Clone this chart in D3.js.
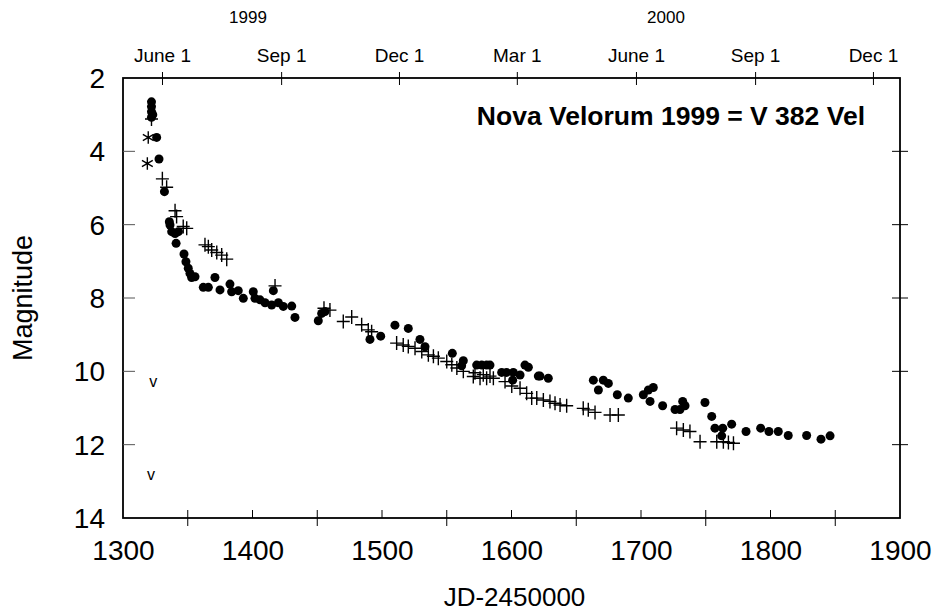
<!DOCTYPE html>
<html>
<head>
<meta charset="utf-8">
<script src="https://cdn.jsdelivr.net/npm/d3@7"></script>
<style>
  html, body { margin: 0; padding: 0; background: #fff; }
  svg { display: block; font-family: "Liberation Sans", Arial, Helvetica, sans-serif; }
</style>
</head>
<body>
<svg id="chart" width="937" height="612"></svg>
<script>
// Light curve of Nova Velorum 1999 (V382 Vel): JD-2450000 vs visual magnitude

// Filled circles
const dotJD = [1322, 1322, 1322, 1323, 1322, 1326, 1327.8, 1332, 1335.8, 1336.3, 1337.6, 1340.2, 1342.8, 1341,
  1347.1, 1348.6, 1350.4, 1351.7, 1353, 1355.6, 1362, 1365.9, 1371, 1374.9, 1382.6, 1383.9, 1389, 1392.9,
  1400.6, 1401.9, 1405.8, 1409.7, 1414.8, 1416.1, 1420, 1423.8, 1430.3, 1432.8, 1450.8, 1453.4, 1456,
  1490.7, 1499, 1510, 1520.3, 1529.3, 1533.2, 1554.3, 1562.8, 1561.5, 1573.1, 1577, 1580.8, 1583.4,
  1592.4, 1596.2, 1601.4, 1606.6, 1610.4, 1613, 1620.7, 1622, 1628.4, 1600.9, 1663.2, 1667.1, 1670.9,
  1674.8, 1681.7, 1690.2, 1701.8, 1705.7, 1709.5, 1707, 1716.7, 1726.3, 1730.1, 1732.2, 1734, 1749.4,
  1754.6, 1757.1, 1763.1, 1762.3, 1770, 1781.1, 1792.4, 1798.8, 1806, 1813.7, 1827.9, 1839, 1846];
const dotMag = [2.65, 2.78, 2.92, 3.0, 3.07, 3.62, 4.21, 5.1, 5.92, 6.01, 6.19, 6.24, 6.19, 6.51,
  6.8, 7.01, 7.19, 7.33, 7.44, 7.42, 7.71, 7.71, 7.44, 7.78, 7.62, 7.83, 7.8, 8.01,
  7.83, 8.01, 8.05, 8.13, 8.19, 7.8, 8.13, 8.23, 8.22, 8.53, 8.62, 8.42, 8.37,
  9.13, 9.04, 8.74, 8.83, 9.13, 9.33, 9.51, 9.71, 9.85, 9.83, 9.83, 9.83, 9.83,
  10.03, 10.03, 10.03, 10.1, 9.83, 9.89, 10.13, 10.13, 10.19, 10.24, 10.24, 10.51, 10.24,
  10.33, 10.64, 10.73, 10.64, 10.51, 10.44, 10.82, 10.94, 11.04, 11.04, 10.82, 10.94, 10.85,
  11.23, 11.55, 11.55, 11.76, 11.44, 11.64, 11.55, 11.64, 11.64, 11.75, 11.75, 11.85, 11.76];

// Plus signs
const plusJD = [1322, 1330.4, 1333.7, 1340.2, 1341.4, 1346.5, 1349.2, 1363.3, 1365.9, 1368.5, 1372.4, 1376.2,
  1380.1, 1417.4, 1455.2, 1459.8, 1470.1, 1476.6, 1484.3, 1489.4, 1492, 1511.3, 1516.4, 1520.3, 1525.5,
  1530.7, 1535.8, 1539.7, 1543.5, 1550, 1553.9, 1557.8, 1562.8, 1570.5, 1571.8, 1575.7, 1578.2, 1580.8,
  1583.4, 1586, 1595, 1600.2, 1606.6, 1611.7, 1615.6, 1619.5, 1624.6, 1629.7, 1633.6, 1637.5, 1642.6,
  1655.4, 1659.3, 1664.5, 1676.1, 1682.5, 1727.5, 1732.7, 1737.8, 1745.6, 1758.5, 1763.6, 1767.5, 1771.4];
const plusMag = [3.12, 4.75, 4.98, 5.62, 5.78, 6.05, 6.1, 6.55, 6.6, 6.69, 6.76, 6.83,
  6.94, 7.67, 8.28, 8.33, 8.64, 8.52, 8.73, 8.87, 8.92, 9.23, 9.28, 9.32, 9.37,
  9.46, 9.55, 9.59, 9.64, 9.73, 9.82, 9.91, 10.0, 10.14, 10.04, 10.19, 10.09, 10.19,
  10.13, 10.19, 10.28, 10.4, 10.46, 10.6, 10.73, 10.73, 10.78, 10.82, 10.87, 10.92, 10.94,
  11.01, 11.05, 11.12, 11.19, 11.19, 11.55, 11.6, 11.64, 11.92, 11.92, 11.92, 11.94, 11.96];

// Asterisks
const starJD = [1319.5, 1318.8];
const starMag = [3.62, 4.33];

// Upper limits (fainter than)
const limitJD = [1323.4, 1321.6];
const limitMag = [10.3, 12.83];

// Axis ticks
const xTicks = [1300, 1400, 1500, 1600, 1700, 1800, 1900];
const xMinorTicks = [1350, 1450, 1550, 1650, 1750, 1850];
const yTicks = [2, 4, 6, 8, 10, 12, 14];
const monthJD = [1330.5, 1422.5, 1513.5, 1604.5, 1696.5, 1788.5, 1879.5];
const monthLabels = ["June 1", "Sep 1", "Dec 1", "Mar 1", "June 1", "Sep 1", "Dec 1"];
const yearJD = [1396.5, 1719.3];
const yearLabels = ["1999", "2000"];

const title = "Nova Velorum 1999 = V 382 Vel";

const svg = d3.select("#chart");
const plotLeft = 123, plotRight = 900, plotTop = 78, plotBottom = 518;

const x = d3.scaleLinear().domain([1300, 1900]).range([plotLeft, plotRight]);
const y = d3.scaleLinear().domain([2, 14]).range([plotTop, plotBottom]);

const zip = (a, b) => a.map((v, i) => [v, b[i]]);

// Frame
svg.append("rect")
  .attr("x", plotLeft).attr("y", plotTop)
  .attr("width", plotRight - plotLeft).attr("height", plotBottom - plotTop)
  .attr("fill", "none").attr("stroke", "#000").attr("stroke-width", 1.8);

// Bottom axis: labels
const bx = svg.append("g").attr("transform", `translate(0,${plotBottom})`)
  .call(d3.axisBottom(x).tickValues(xTicks).tickSize(0).tickPadding(22).tickFormat(d3.format("d")));
bx.select(".domain").remove();
bx.attr("font-family", null).attr("font-size", null);
bx.selectAll("text").attr("font-size", 28).attr("fill", "#000");

// Bottom axis: inner major ticks
svg.append("g").selectAll("line").data(xTicks.slice(1, -1)).join("line")
  .attr("x1", d => x(d)).attr("x2", d => x(d))
  .attr("y1", plotBottom).attr("y2", plotBottom - 8)
  .attr("stroke", "#000").attr("stroke-width", 1);
// Bottom axis: crossing minor ticks
svg.append("g").selectAll("line").data(xMinorTicks).join("line")
  .attr("x1", d => x(d)).attr("x2", d => x(d))
  .attr("y1", plotBottom - 8).attr("y2", plotBottom + 8)
  .attr("stroke", "#000").attr("stroke-width", 1);

// Left axis: labels and inner ticks
svg.append("g").selectAll("text").data(yTicks).join("text")
  .attr("x", 105).attr("y", d => y(d)).attr("dy", "0.36em")
  .attr("text-anchor", "end").attr("font-size", 28).text(d => d);
svg.append("g").selectAll("line").data(yTicks.slice(1, -1)).join("line")
  .attr("x1", plotLeft).attr("x2", plotLeft + 12)
  .attr("y1", d => y(d)).attr("y2", d => y(d))
  .attr("stroke", "#555").attr("stroke-width", 1);

// Right axis: crossing ticks
svg.append("g").selectAll("line").data(yTicks.slice(1, -1)).join("line")
  .attr("x1", plotRight - 8).attr("x2", plotRight + 8)
  .attr("y1", d => y(d)).attr("y2", d => y(d))
  .attr("stroke", "#000").attr("stroke-width", 1);

// Top axis: calendar dates
svg.append("g").selectAll("line").data(monthJD).join("line")
  .attr("x1", d => x(d)).attr("x2", d => x(d))
  .attr("y1", plotTop - 6).attr("y2", plotTop + 7)
  .attr("stroke", "#000").attr("stroke-width", 1);
svg.append("g").selectAll("text").data(monthJD).join("text")
  .attr("x", d => x(d)).attr("y", 62)
  .attr("text-anchor", "middle").attr("font-size", 19)
  .text((d, i) => monthLabels[i]);
svg.append("g").selectAll("text").data(yearJD).join("text")
  .attr("x", d => x(d)).attr("y", 23)
  .attr("text-anchor", "middle").attr("font-size", 17)
  .text((d, i) => yearLabels[i]);

// Axis titles
svg.append("text")
  .attr("transform", `translate(32,298) rotate(-90)`)
  .attr("text-anchor", "middle").attr("font-size", 27).text("Magnitude");
svg.append("text")
  .attr("x", (plotLeft + plotRight) / 2 + 3).attr("y", 606)
  .attr("text-anchor", "middle").attr("font-size", 26).text("JD-2450000");

// Title
svg.append("text")
  .attr("x", 865).attr("y", 125).attr("text-anchor", "end")
  .attr("font-size", 26.5).attr("font-weight", "bold").text(title);

// Data marks
const marks = svg.append("g");

marks.append("g").selectAll("path").data(zip(plusJD, plusMag)).join("path")
  .attr("transform", d => `translate(${x(d[0])},${y(d[1])})`)
  .attr("d", "M-6.5,0H6.5M0,-7V7")
  .attr("fill", "none").attr("stroke", "#000").attr("stroke-width", 1.4);

marks.append("g").selectAll("path").data(zip(starJD, starMag)).join("path")
  .attr("transform", d => `translate(${x(d[0])},${y(d[1])})`)
  .attr("d", d3.symbol(d3.symbolAsterisk, 110))
  .attr("fill", "none").attr("stroke", "#000").attr("stroke-width", 1.4);

marks.append("g").selectAll("circle").data(zip(dotJD, dotMag)).join("circle")
  .attr("cx", d => x(d[0])).attr("cy", d => y(d[1])).attr("r", 4.5)
  .attr("fill", "#000");

marks.append("g").selectAll("text").data(zip(limitJD, limitMag)).join("text")
  .attr("x", d => x(d[0])).attr("y", d => y(d[1])).attr("dy", "0.3em")
  .attr("text-anchor", "middle").attr("font-size", 16).text("v");
</script>
</body>
</html>
